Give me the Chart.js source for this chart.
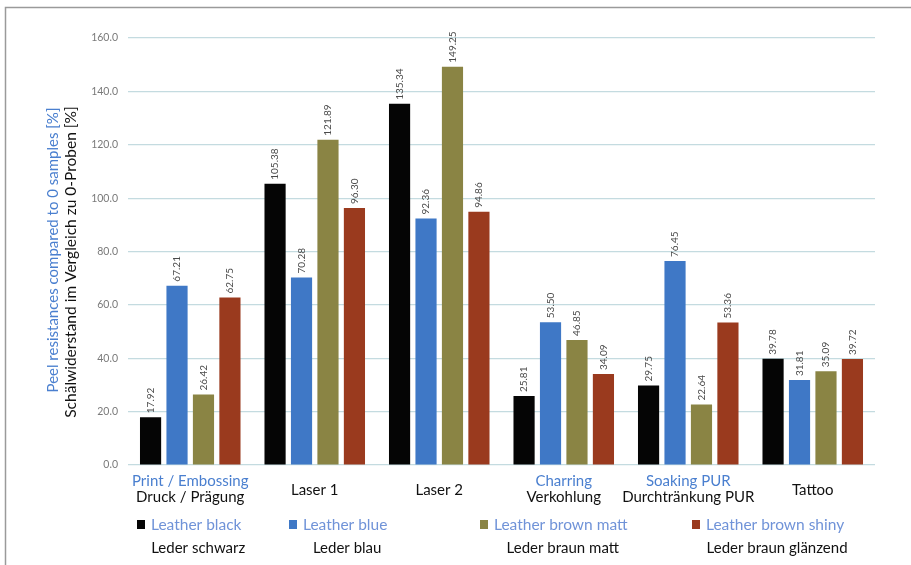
<!DOCTYPE html>
<html>
<head>
<meta charset="utf-8">
<script src="https://cdn.jsdelivr.net/npm/chart.js@4/dist/chart.umd.min.js"></script>
<style>
  html, body { margin: 0; padding: 0; background: #fff; }
  #wrap { width: 911px; height: 565px; }
</style>
</head>
<body>
<div id="wrap"><canvas id="c" width="911" height="565"></canvas></div>
<script>
// Treatment categories (English / German)
const categoriesEn = ['Print / Embossing', '', '', 'Charring', 'Soaking PUR', ''];
const categoriesDe = ['Druck / Prägung', 'Laser 1', 'Laser 2', 'Verkohlung', 'Durchtränkung PUR', 'Tattoo'];

// Peel resistance relative to 0-samples [%]
const leatherBlack      = [17.92, 105.38, 135.34, 25.81, 29.75, 39.78];
const leatherBlue       = [67.21, 70.28, 92.36, 53.50, 76.45, 31.81];
const leatherBrownMatt  = [26.42, 121.89, 149.25, 46.85, 22.64, 35.09];
const leatherBrownShiny = [62.75, 96.30, 94.86, 34.09, 53.36, 39.72];

const seriesEn = ['Leather black', 'Leather blue', 'Leather brown matt', 'Leather brown shiny'];
const seriesDe = ['Leder schwarz', 'Leder blau', 'Leder braun matt', 'Leder braun glänzend'];

const yTicks = [0, 20, 40, 60, 80, 100, 120, 140, 160];

const colors = ['#050505', '#3f78c6', '#8a8444', '#9a3a1e'];
const FONT = 'Lato, "Open Sans", sans-serif';
const EN_BLUE = '#4a7fcf';
const EN_LIGHT = '#7093d8';

const framePlugin = {
  id: 'frame',
  beforeDraw(chart) {
    const ctx = chart.ctx;
    ctx.save();
    ctx.fillStyle = '#fff';
    ctx.fillRect(0, 0, chart.width, chart.height);
    ctx.strokeStyle = '#9a9a9a';
    ctx.lineWidth = 1.5;
    ctx.beginPath();
    ctx.moveTo(5.5, 565);
    ctx.lineTo(5.5, 7.5);
    ctx.lineTo(911, 7.5);
    ctx.stroke();
    ctx.restore();
  }
};

const valueLabelPlugin = {
  id: 'valueLabels',
  afterDatasetsDraw(chart) {
    const ctx = chart.ctx;
    ctx.save();
    ctx.font = '10px ' + FONT;
    ctx.fillStyle = '#4a4a4a';
    ctx.textAlign = 'left';
    ctx.textBaseline = 'middle';
    chart.data.datasets.forEach((ds, di) => {
      const meta = chart.getDatasetMeta(di);
      meta.data.forEach((bar, i) => {
        ctx.save();
        ctx.translate(bar.x, bar.y - 4);
        ctx.rotate(-Math.PI / 2);
        ctx.fillText(ds.data[i].toFixed(2), 0, 0);
        ctx.restore();
      });
    });
    ctx.restore();
  }
};

const textPlugin = {
  id: 'texts',
  afterDraw(chart) {
    const ctx = chart.ctx;
    const xs = chart.scales.x;
    ctx.save();
    // category labels
    ctx.textAlign = 'center';
    ctx.textBaseline = 'middle';
    categoriesDe.forEach((de, i) => {
      const x = xs.getPixelForValue(i);
      const en = categoriesEn[i];
      if (en) {
        ctx.font = '15px ' + FONT;
        ctx.fillStyle = EN_BLUE;
        ctx.fillText(en, x, 481);
        ctx.font = '15px ' + FONT;
        ctx.fillStyle = '#111';
        ctx.fillText(de, x, 497);
      } else {
        ctx.font = '15px ' + FONT;
        ctx.fillStyle = '#111';
        ctx.fillText(de, x, 490);
      }
    });

    // legend
    const legendX = [137, 289, 480, 692];
    seriesEn.forEach((en, i) => {
      const sx = legendX[i];
      ctx.fillStyle = colors[i];
      ctx.fillRect(sx, 520, 8, 9);
      ctx.font = '15.5px ' + FONT;
      ctx.textAlign = 'left';
      ctx.fillStyle = EN_LIGHT;
      const tx = sx + 14;
      ctx.fillText(en, tx, 525);
      const w = ctx.measureText(en).width;
      ctx.font = '15px ' + FONT;
      ctx.fillStyle = '#111';
      ctx.textAlign = 'center';
      ctx.fillText(seriesDe[i], tx + w / 2 + 2, 548);
    });

    // y axis titles
    ctx.save();
    ctx.translate(53, 250);
    ctx.rotate(-Math.PI / 2);
    ctx.textAlign = 'center';
    ctx.font = '15px ' + FONT;
    ctx.fillStyle = EN_BLUE;
    ctx.fillText('Peel resistances compared to 0 samples [%]', 0, 0);
    ctx.restore();
    ctx.save();
    ctx.translate(71, 262);
    ctx.rotate(-Math.PI / 2);
    ctx.textAlign = 'center';
    ctx.font = '15.5px ' + FONT;
    ctx.fillStyle = '#111';
    ctx.fillText('Schälwiderstand im Vergleich zu 0-Proben [%]', 0, 0);
    ctx.restore();

    ctx.restore();
  }
};

const seriesValues = [leatherBlack, leatherBlue, leatherBrownMatt, leatherBrownShiny];

new Chart(document.getElementById('c'), {
  type: 'bar',
  data: {
    labels: categoriesDe,
    datasets: seriesValues.map((vals, i) => ({
      label: seriesEn[i],
      data: vals,
      backgroundColor: colors[i],
      borderWidth: 0,
      categoryPercentage: 0.85,
      barPercentage: 0.8
    }))
  },
  options: {
    responsive: false,
    animation: false,
    events: [],
    layout: { padding: { left: 0, right: 36, top: 38, bottom: 100 } },
    plugins: { legend: { display: false }, tooltip: { enabled: false } },
    scales: {
      x: { display: false },
      y: {
        min: 0,
        max: 160,
        afterFit(scale) { scale.width = 128; },
        afterBuildTicks(scale) { scale.ticks = yTicks.map(v => ({ value: v })); },
        border: { display: false },
        grid: { color: '#c4dbe0', lineWidth: 1.2, drawTicks: false },
        ticks: {
          padding: 10,
          color: '#7a7a7a',
          font: { size: 10.5, family: FONT },
          callback: v => Number(v).toFixed(1)
        }
      }
    }
  },
  plugins: [framePlugin, valueLabelPlugin, textPlugin]
});
</script>
</body>
</html>
